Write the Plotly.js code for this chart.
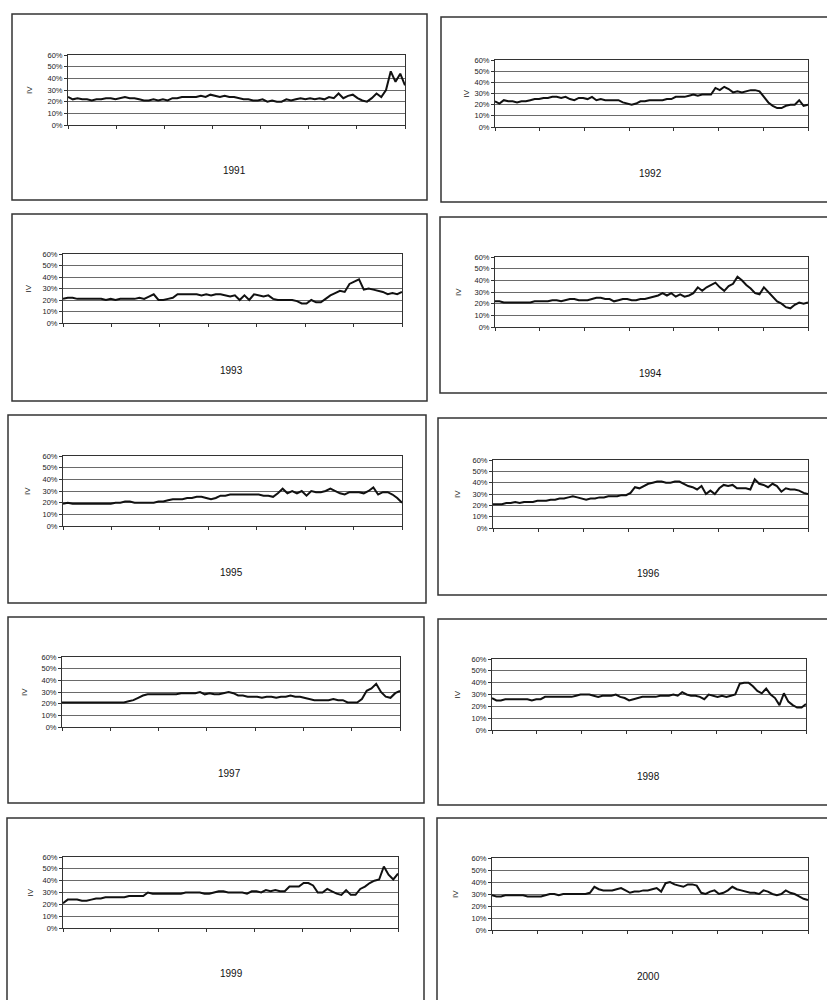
<!DOCTYPE html>
<html><head><meta charset="utf-8">
<script src="https://cdn.plot.ly/plotly-3.0.1.min.js"></script>
<style>html,body{margin:0;padding:0;background:#fff;} #chart{width:827px;height:1000px;}</style>
</head><body><div id="chart"></div>
<script>
// ---------- DATA (implied volatility, %) ----------
const years = ['1991','1992','1993','1994','1995','1996','1997','1998','1999','2000'];
const yTickVals = [0,10,20,30,40,50,60];
const yTickText = ['0%','10%','20%','30%','40%','50%','60%'];
const axisLabel = 'IV';

const iv1991 = [24,22,23,22,22,21,22, 22,23,23,22,23,24,23, 23,22,21,21,22,21,22, 21,23,23,24,24,24,24,
  25,24,26,25,24,25,24, 24,23,22,22,21,21,22, 20,21,20,20,22,21,22, 23,22,23,22,23,22,24,
  23,27,23,25,26,23,21, 20,23,27,24,30,46,37,44,34];
const iv1992 = [23,21,24,23,23,22,23, 23,24,25,25,26,26,27, 27,26,27,25,24,26,26, 25,27,24,25,24,24,24,
  24,22,21,20,21,23,23, 24,24,24,24,25,25,27, 27,27,28,29,28,29,29, 29,35,33,36,34,31,32,
  31,32,33,33,32,27,22, 19,17,17,19,20,20,24,19,20];
const iv1993 = [21,22,22,21,21,21,21, 21,21,20,21,20,21,21, 21,21,22,21,23,25,20, 20,21,22,25,25,25,25,
  25,24,25,24,25,25,24, 23,24,20,24,20,25,24, 23,24,21,20,20,20,20, 19,17,17,20,18,18,21,
  24,26,28,27,34,36,38, 29,30,29,28,27,25,26,25,27];
const iv1994 = [22,22,21,21,21,21,21, 21,21,22,22,22,22,23, 23,22,23,24,24,23,23, 23,24,25,25,24,24,22,
  23,24,24,23,23,24,24, 25,26,27,29,27,29,26, 28,26,27,29,34,31,34, 36,38,34,31,35,37,43,
  40,36,33,29,28,34,30, 26,22,20,17,16,19,21,20,21];
const iv1995 = [19,20,19,19,19,19,19, 19,19,19,19,20,20,21, 21,20,20,20,20,20,21, 21,22,23,23,23,24,24,
  25,25,24,23,24,26,26, 27,27,27,27,27,27,27, 26,26,25,28,32,28,30, 28,30,26,30,29,29,30,
  32,30,28,27,29,29,29, 28,30,33,27,29,29,27,24,20];
const iv1996 = [21,21,21,22,22,23,22, 23,23,23,24,24,24,25, 25,26,26,27,28,27,26, 25,26,26,27,27,28,28,
  28,29,29,31,36,35,37, 39,40,41,41,40,40,41, 41,39,37,36,34,37,30, 33,30,35,38,37,38,35,
  35,35,34,43,39,38,36, 39,37,32,35,34,34,33,31,30];
const iv1997 = [21,21,21,21,21,21,21, 21,21,21,21,21,21,21, 22,23,25,27,28,28,28, 28,28,28,28,29,29,29,
  29,30,28,29,28,28,29, 30,29,27,27,26,26,26, 25,26,26,25,26,26,27, 26,26,25,24,23,23,23,
  23,24,23,23,21,21,21, 24,31,33,37,30,26,25,29,31];
const iv1998 = [27,25,25,26,26,26,26, 26,26,25,26,26,28,28, 28,28,28,28,28,29,30, 30,30,29,28,29,29,29,
  30,28,27,25,26,27,28, 28,28,28,29,29,29,30, 29,32,30,29,29,28,26, 30,29,28,29,28,29,30,
  39,40,40,37,33,31,35, 30,27,21,31,24,21,19,19,22];
const iv1999 = [21,24,24,24,23,23,24, 25,25,26,26,26,26,26, 27,27,27,27,30,29,29, 29,29,29,29,29,30,30,
  30,30,29,29,30,31,31, 30,30,30,30,29,31,31, 30,32,31,32,31,31,35, 35,35,38,38,36,30,30,
  33,31,29,28,32,28,28, 33,35,38,40,41,52,45,41,46];
const iv2000 = [29,28,28,29,29,29,29, 29,28,28,28,28,29,30, 30,29,30,30,30,30,30, 30,31,36,34,33,33,33,
  34,35,33,31,32,32,33, 33,34,35,32,39,40,38, 37,36,38,38,37,31,30, 32,33,30,31,33,36,34,
  33,32,31,31,30,33,32, 30,29,30,33,31,30,28,26,25];
const series = [iv1991,iv1992,iv1993,iv1994,iv1995,iv1996,iv1997,iv1998,iv1999,iv2000];

// ---------- LAYOUT GEOMETRY (page pixels) ----------
const W = 827, H = 1000;
const plotRects = [
  [68,405,55,125],[495,808,60,127],
  [63,402,254,323],[495,808,257,327],
  [63,402,456,526],[493,808,460,528],
  [62,400,657,727],[492,806,659,730],
  [63,398,857,928],[492,808,858,930]
];
const boxRects = [
  [12,427,14,200],[441,840,17,202],
  [12,427,214,401],[440,840,217,393],
  [8,426,415,603],[438,840,418,595],
  [8,424,617,803],[438,840,619,805],
  [7,424,818,1010],[437,840,818,1010]
];
const titleXY = [[234,170],[650,173],[231,370],[650,373],[231,572],[648,573],[230,773],[648,776],[231,973],[648,976]];
const labelX = [30,466,28,458,27,457,24,457,30,455];

const px = v => v / W, py = v => 1 - v / H;

const traces = [], layout = {
  width: W, height: H, margin: {l:0,r:0,t:0,b:0},
  paper_bgcolor: '#fff', plot_bgcolor: '#fff', showlegend: false,
  font: {family: 'Liberation Sans, Arial, sans-serif', color: '#222'},
  shapes: [], annotations: []
};

series.forEach((vals, k) => {
  const sfx = k === 0 ? '' : String(k + 1);
  const n = vals.length;
  const xs = vals.map((_, i) => i);
  traces.push({
    type: 'scatter', mode: 'lines', x: xs, y: vals,
    xaxis: 'x' + sfx, yaxis: 'y' + sfx,
    line: {color: '#111', width: 2}, hoverinfo: 'skip'
  });
  const [x0, x1, y0, y1] = plotRects[k];
  const xt = [];
  for (let j = 0; j <= 7; j++) xt.push(j * (n - 1) / 7);
  layout['xaxis' + sfx] = {
    domain: [px(x0), px(x1)], anchor: 'y' + sfx, range: [0, n - 1],
    showgrid: false, zeroline: false, showline: true, mirror: true,
    linecolor: '#333', linewidth: 1, ticks: 'outside', ticklen: 3, tickcolor: '#333',
    tickvals: xt, showticklabels: false, fixedrange: true
  };
  layout['yaxis' + sfx] = {
    domain: [py(y1), py(y0)], anchor: 'x' + sfx, range: [0, 60],
    tickvals: yTickVals, ticktext: yTickText,
    showgrid: true, gridcolor: '#6a6a6a', gridwidth: 1, zeroline: false,
    showline: true, mirror: true, linecolor: '#333', linewidth: 1,
    ticks: 'outside', ticklen: 3, tickcolor: '#333',
    tickfont: {size: 7.5, color: '#222'}, fixedrange: true
  };
  const [bx0, bx1, by0, by1] = boxRects[k];
  layout.shapes.push({type: 'rect', xref: 'paper', yref: 'paper',
    x0: px(bx0), x1: px(bx1), y0: py(by1), y1: py(by0),
    line: {color: '#333', width: 1.5}, fillcolor: 'rgba(0,0,0,0)'});
  layout.annotations.push({xref: 'paper', yref: 'paper', x: px(titleXY[k][0]), y: py(titleXY[k][1]),
    text: years[k], showarrow: false, xanchor: 'center', yanchor: 'middle',
    font: {size: 10, color: '#111'}});
  layout.annotations.push({xref: 'paper', yref: 'paper', x: px(labelX[k]), y: py((y0 + y1) / 2),
    text: axisLabel, showarrow: false, textangle: -90, xanchor: 'center', yanchor: 'middle',
    font: {size: 8, color: '#222'}});
});

Plotly.newPlot('chart', traces, layout, {staticPlot: true, displayModeBar: false});
</script>
</body></html>
